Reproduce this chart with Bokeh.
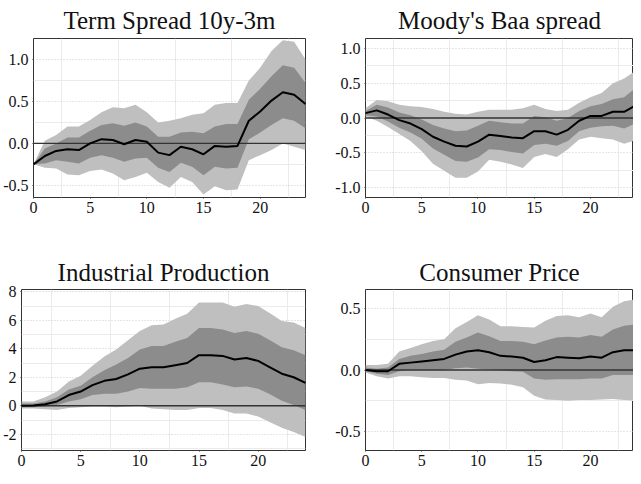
from bokeh.plotting import figure
from bokeh.layouts import row, column
from bokeh.models import Range1d, FixedTicker, Span, CustomJSTickFormatter
from bokeh.embed import file_html
from bokeh.resources import INLINE

horizon = list(range(25))
x_ticks = [0, 5, 10, 15, 20]
x_tick_labels = ["0", "5", "10", "15", "20"]

titles = ["Term Spread 10y-3m", "Moody's Baa spread", "Industrial Production", "Consumer Price"]

ts_med = [-0.25, -0.15, -0.09, -0.07, -0.08, 0.0, 0.05, 0.04, -0.01, 0.04, 0.02, -0.11, -0.14,
          -0.04, -0.07, -0.13, -0.03, -0.04, -0.03, 0.27, 0.38, 0.51, 0.61, 0.58, 0.47]
ts_hi68 = [-0.25, -0.06, 0.0, 0.07, 0.07, 0.15, 0.22, 0.24, 0.21, 0.25, 0.2, 0.08, 0.08,
           0.13, 0.14, 0.12, 0.2, 0.23, 0.23, 0.52, 0.65, 0.8, 0.93, 0.9, 0.72]
ts_lo68 = [-0.25, -0.24, -0.2, -0.22, -0.24, -0.17, -0.14, -0.17, -0.22, -0.18, -0.17, -0.29, -0.34,
           -0.23, -0.28, -0.38, -0.28, -0.3, -0.29, 0.05, 0.13, 0.22, 0.3, 0.27, 0.18]
ts_hi90 = [-0.25, 0.03, 0.1, 0.2, 0.2, 0.28, 0.37, 0.43, 0.42, 0.46, 0.37, 0.25, 0.27,
           0.3, 0.34, 0.36, 0.46, 0.48, 0.48, 0.75, 0.9, 1.1, 1.23, 1.21, 1.0]
ts_lo90 = [-0.25, -0.29, -0.3, -0.37, -0.38, -0.33, -0.31, -0.36, -0.44, -0.4, -0.35, -0.46, -0.53,
           -0.4, -0.46, -0.61, -0.51, -0.56, -0.55, -0.2, -0.14, -0.08, 0.0, -0.04, -0.08]
ts_yticks = [-0.5, 0.0, 0.5, 1.0]
ts_ylabels = ["-0.5", "0.0", "0.5", "1.0"]

baa_med = [0.07, 0.11, 0.05, -0.03, -0.08, -0.16, -0.27, -0.34, -0.4, -0.41, -0.34, -0.24, -0.26,
           -0.28, -0.29, -0.19, -0.19, -0.24, -0.17, -0.04, 0.03, 0.03, 0.09, 0.09, 0.18]
baa_hi68 = [0.1, 0.19, 0.15, 0.08, 0.04, -0.02, -0.1, -0.15, -0.19, -0.18, -0.11, -0.04, -0.06,
            -0.08, -0.08, 0.03, 0.01, -0.04, 0.0, 0.1, 0.17, 0.2, 0.27, 0.3, 0.43]
baa_lo68 = [0.04, 0.02, -0.05, -0.14, -0.21, -0.3, -0.44, -0.53, -0.62, -0.63, -0.57, -0.45, -0.46,
            -0.49, -0.51, -0.39, -0.37, -0.4, -0.33, -0.19, -0.14, -0.12, -0.11, -0.15, -0.08]
baa_hi90 = [0.14, 0.26, 0.24, 0.19, 0.17, 0.16, 0.13, 0.09, 0.06, 0.05, 0.09, 0.12, 0.12,
            0.12, 0.14, 0.19, 0.13, 0.1, 0.12, 0.22, 0.3, 0.36, 0.5, 0.57, 0.68]
baa_lo90 = [0.02, -0.04, -0.13, -0.23, -0.33, -0.48, -0.66, -0.76, -0.86, -0.86, -0.77, -0.6, -0.63,
            -0.67, -0.72, -0.56, -0.52, -0.56, -0.45, -0.31, -0.27, -0.29, -0.31, -0.37, -0.32]
baa_yticks = [-1.0, -0.5, 0.0, 0.5, 1.0]
baa_ylabels = ["-1.0", "-0.5", "0.0", "0.5", "1.0"]

ip_med = [0.0, 0.02, 0.1, 0.3, 0.75, 1.0, 1.45, 1.75, 1.88, 2.2, 2.6, 2.7, 2.7,
          2.85, 3.0, 3.55, 3.55, 3.5, 3.25, 3.35, 3.15, 2.7, 2.25, 2.0, 1.6]
ip_hi68 = [0.15, 0.15, 0.3, 0.6, 1.15, 1.4, 2.0, 2.5, 2.9, 3.35, 3.95, 4.2, 4.2,
           4.5, 4.75, 5.45, 5.45, 5.35, 5.1, 5.25, 5.05, 4.6, 4.1, 3.9, 3.55]
ip_lo68 = [-0.1, -0.1, -0.05, 0.05, 0.3, 0.45, 0.75, 0.85, 0.85, 1.0, 1.25, 1.2, 1.2,
           1.2, 1.3, 1.65, 1.65, 1.5, 1.3, 1.35, 1.2, 0.8, 0.35, 0.05, -0.3]
ip_hi90 = [0.3, 0.3, 0.6, 1.0, 1.7, 2.1, 2.8, 3.45, 3.95, 4.6, 5.25, 5.65, 5.7,
           6.1, 6.45, 7.25, 7.25, 7.25, 6.95, 7.15, 7.0, 6.5, 5.95, 5.85, 5.45]
ip_lo90 = [-0.2, -0.2, -0.25, -0.3, -0.15, -0.1, -0.05, -0.05, -0.1, -0.05, 0.0, -0.2, -0.25,
           -0.3, -0.3, -0.15, -0.15, -0.3, -0.55, -0.55, -0.75, -1.15, -1.55, -1.85, -2.2]
ip_yticks = [-2, 0, 2, 4, 6, 8]
ip_ylabels = ["-2", "0", "2", "4", "6", "8"]

cp_med = [0.0, -0.01, -0.01, 0.05, 0.06, 0.07, 0.08, 0.09, 0.125, 0.15, 0.16, 0.145, 0.115,
          0.11, 0.1, 0.065, 0.08, 0.105, 0.1, 0.095, 0.11, 0.1, 0.145, 0.16, 0.16]
cp_hi68 = [0.02, 0.01, 0.02, 0.09, 0.115, 0.13, 0.15, 0.165, 0.23, 0.265, 0.305, 0.275, 0.235,
           0.235, 0.23, 0.21, 0.24, 0.265, 0.27, 0.265, 0.285, 0.27, 0.33, 0.36, 0.37]
cp_lo68 = [-0.01, -0.03, -0.04, -0.01, 0.0, 0.0, 0.0, 0.0, 0.015, 0.02, 0.01, 0.005, -0.005,
           -0.01, -0.015, -0.07, -0.08, -0.075, -0.075, -0.075, -0.07, -0.07, -0.04, -0.04, -0.04]
cp_hi90 = [0.04, 0.04, 0.05, 0.15, 0.18, 0.21, 0.235, 0.25, 0.34, 0.39, 0.445, 0.41, 0.355,
           0.355, 0.35, 0.345, 0.4, 0.44, 0.445, 0.43, 0.46, 0.43, 0.515, 0.56, 0.575]
cp_lo90 = [-0.02, -0.05, -0.07, -0.05, -0.05, -0.06, -0.065, -0.065, -0.08, -0.085, -0.115, -0.105, -0.11,
           -0.12, -0.14, -0.21, -0.24, -0.245, -0.25, -0.245, -0.245, -0.24, -0.235, -0.245, -0.25]
cp_yticks = [-0.5, 0.0, 0.5]
cp_ylabels = ["-0.5", "0.0", "0.5"]

SERIF = "Liberation Serif"
LIGHT = "#bfbfbf"
DARK = "#8c8c8c"


def midpoints(t):
    step = t[1] - t[0]
    return [t[0] - step / 2] + [v + step / 2 for v in t]


def label_formatter(tick_values, tick_texts):
    return CustomJSTickFormatter(
        args=dict(tv=list(tick_values), tt=list(tick_texts)),
        code="""
        for (let i = 0; i < tv.length; i++) {
            if (Math.abs(tv[i] - tick) < 1e-9) { return tt[i]; }
        }
        return "";
        """)


def panel(title, med, lo68, hi68, lo90, hi90, yrange, yticks, ylabels,
          xend, width, height, bl, br, bt, bb, standoff):
    p = figure(width=width, height=height, x_range=Range1d(0, xend),
               y_range=Range1d(*yrange), output_backend="svg",
               toolbar_location=None, tools="",
               min_border_left=bl, min_border_right=br,
               min_border_top=bt, min_border_bottom=bb)
    p.title.text = title
    p.title.text_font = SERIF
    p.title.text_font_size = "25px"
    p.title.text_font_style = "normal"
    p.title.text_color = "#111111"
    p.title.align = "center"
    p.title.standoff = standoff

    p.outline_line_color = "#333333"
    p.outline_line_width = 1
    p.outline_line_alpha = 1

    p.varea(x=horizon, y1=lo90, y2=hi90, fill_color=LIGHT)
    p.varea(x=horizon, y1=lo68, y2=hi68, fill_color=DARK)
    p.add_layout(Span(location=0, dimension="width", line_color="#333333",
                      line_width=1.4))
    r = p.line(x=horizon, y=med, line_color="black", line_width=2)
    r.level = "overlay"

    p.xaxis.ticker = FixedTicker(ticks=x_ticks, minor_ticks=midpoints(x_ticks))
    p.xaxis.formatter = label_formatter(x_ticks, x_tick_labels)
    p.yaxis.ticker = FixedTicker(ticks=yticks, minor_ticks=midpoints(yticks))
    p.yaxis.formatter = label_formatter(yticks, ylabels)

    for ax in p.below + p.left:
        ax.axis_line_color = None
        ax.major_tick_line_color = "#333333"
        ax.major_tick_in = 0
        ax.major_tick_out = 1
        ax.minor_tick_line_color = None
        ax.major_label_text_font = SERIF
        ax.major_label_text_font_size = "16px"
        ax.major_label_text_color = "#111111"
        ax.major_label_standoff = 1
    for ax in p.below:
        ax.major_label_standoff = 0

    p.xgrid.grid_line_color = None
    p.xgrid.minor_grid_line_color = "#ebebeb"
    p.xgrid.minor_grid_line_width = 1
    p.ygrid.grid_line_color = "#cccccc"
    p.ygrid.grid_line_dash = "1 2"
    p.ygrid.minor_grid_line_color = "#ebebeb"
    p.ygrid.minor_grid_line_width = 1
    p.background_fill_color = "white"
    p.border_fill_color = "white"
    return p


p1 = panel(titles[0], ts_med, ts_lo68, ts_hi68, ts_lo90, ts_hi90, (-0.645, 1.25),
           ts_yticks, ts_ylabels, 24, 332, 217, 27, 27, 31, 20, 9)
p2 = panel(titles[1], baa_med, baa_lo68, baa_hi68, baa_lo90, baa_hi90, (-1.145, 1.145),
           baa_yticks, baa_ylabels, 23.83, 301, 217, 28, 0, 31, 20, 9)
p3 = panel(titles[2], ip_med, ip_lo68, ip_hi68, ip_lo90, ip_hi90, (-3.14, 8.16),
           ip_yticks, ip_ylabels, 24, 332, 251, 15, 27, 72, 18, 7)
p4 = panel(titles[3], cp_med, cp_lo68, cp_hi68, cp_lo90, cp_hi90, (-0.655, 0.655),
           cp_yticks, cp_ylabels, 23.83, 301, 251, 28, 0, 72, 18, 7)

layout = column(row(p1, p2), row(p3, p4))
open("out.html", "w").write(file_html(layout, INLINE))
